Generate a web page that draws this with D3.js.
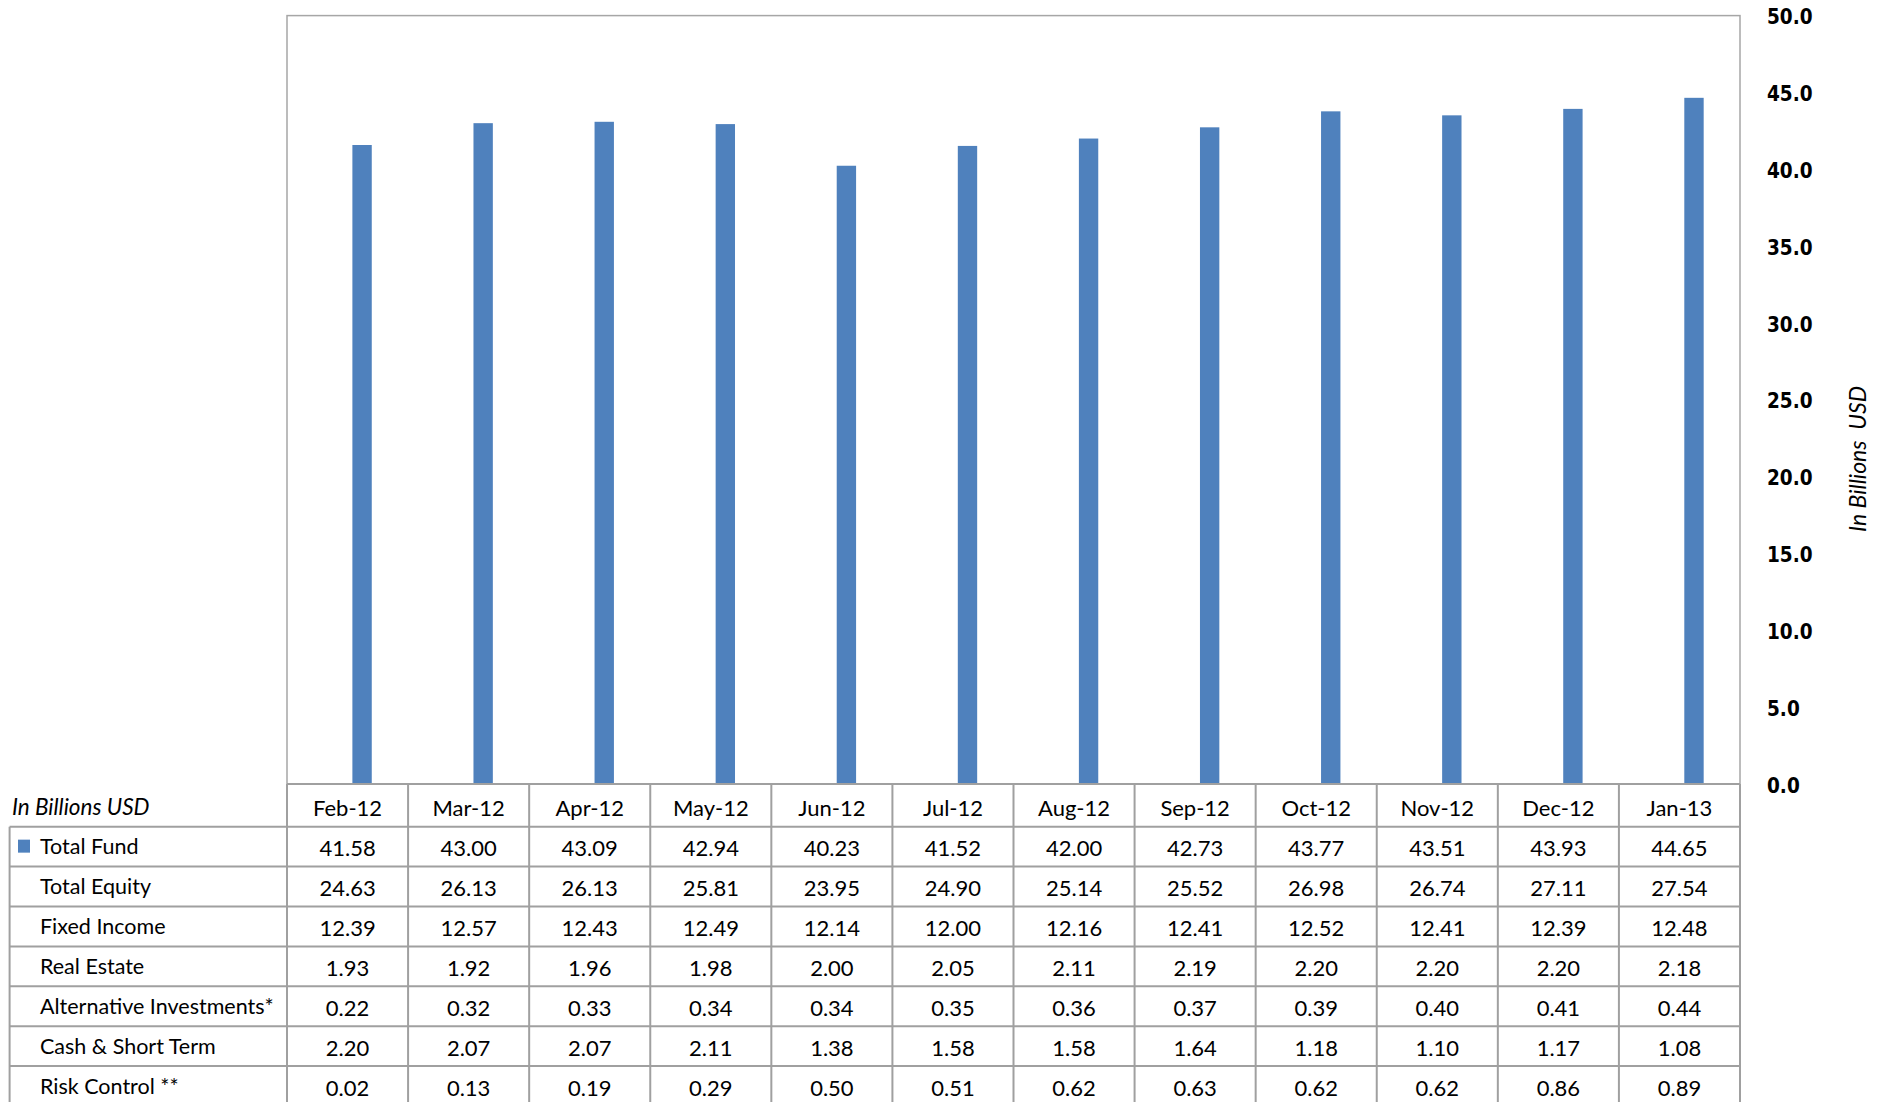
<!DOCTYPE html>
<html>
<head>
<meta charset="utf-8">
<title>Total Fund</title>
<script src="https://d3js.org/d3.v7.min.js"></script>
<style>
  body { margin: 0; background: #fff; }
  .cell { font-family: Lato, "Open Sans", sans-serif; font-size: 22px; fill: #000; }
  .yaxis text { font-family: "DejaVu Sans", Verdana, sans-serif; font-weight: bold; font-size: 18.5px; fill: #000; }
  .xaxis text { font-family: Lato, "Open Sans", sans-serif; font-size: 22px; fill: #000; }
</style>
</head>
<body>
<div id="chart"></div>
<script>
"use strict";

// dados
var meses = ["Feb-12", "Mar-12", "Apr-12", "May-12", "Jun-12", "Jul-12",
             "Aug-12", "Sep-12", "Oct-12", "Nov-12", "Dec-12", "Jan-13"];
var totalFund   = [41.58, 43.00, 43.09, 42.94, 40.23, 41.52, 42.00, 42.73, 43.77, 43.51, 43.93, 44.65];
var totalEquity = [24.63, 26.13, 26.13, 25.81, 23.95, 24.90, 25.14, 25.52, 26.98, 26.74, 27.11, 27.54];
var fixedIncome = [12.39, 12.57, 12.43, 12.49, 12.14, 12.00, 12.16, 12.41, 12.52, 12.41, 12.39, 12.48];
var realEstate  = [1.93, 1.92, 1.96, 1.98, 2.00, 2.05, 2.11, 2.19, 2.20, 2.20, 2.20, 2.18];
var altInvest   = [0.22, 0.32, 0.33, 0.34, 0.34, 0.35, 0.36, 0.37, 0.39, 0.40, 0.41, 0.44];
var cashShort   = [2.20, 2.07, 2.07, 2.11, 1.38, 1.58, 1.58, 1.64, 1.18, 1.10, 1.17, 1.08];
var riskControl = [0.02, 0.13, 0.19, 0.29, 0.50, 0.51, 0.62, 0.63, 0.62, 0.62, 0.86, 0.89];
var rotulosLinhas = ["Total Fund", "Total Equity", "Fixed Income", "Real Estate",
                     "Alternative Investments*", "Cash & Short Term", "Risk Control **"];
var ticksY = [0, 5, 10, 15, 20, 25, 30, 35, 40, 45, 50];

var linhas = [totalFund, totalEquity, fixedIncome, realEstate, altInvest, cashShort, riskControl];

var largura = 1885, altura = 1102;
var plot = {left: 287, right: 1740, top: 15.6, bottom: 784};
var tabela = {left: 9.6, headBottom: 826.7, rowH: 39.9};
var azul = "#4f81bd", cinza = "#a0a0a0";

var svg = d3.select("#chart").append("svg")
    .attr("width", largura)
    .attr("height", altura);

var x = d3.scaleBand()
    .domain(meses)
    .range([plot.left, plot.right]);
var y = d3.scaleLinear()
    .domain([0, 50])
    .range([plot.bottom, plot.top]);

// barras (deslocadas como no cluster do Excel)
var larguraBarra = x.bandwidth() * 0.16;
var desloc = x.bandwidth() * 0.54;

svg.append("g").selectAll("rect")
    .data(totalFund)
    .enter()
    .append("rect")
    .attr("x", (d, i) => x(meses[i]) + desloc)
    .attr("y", d => y(d))
    .attr("width", larguraBarra)
    .attr("height", d => y(0) - y(d))
    .style("fill", azul);

// borda da area do grafico
svg.append("rect")
    .attr("x", plot.left)
    .attr("y", plot.top)
    .attr("width", plot.right - plot.left)
    .attr("height", plot.bottom - plot.top)
    .style("fill", "none")
    .style("stroke", "#a6a6a6")
    .style("stroke-width", 1.5);

// eixo y a direita
var eixoY = svg.append("g")
    .attr("class", "yaxis")
    .attr("transform", "translate(" + plot.right + ",0)")
    .call(d3.axisRight(y).tickValues(ticksY).tickFormat(d3.format(".1f")).tickSize(0).tickPadding(27));
eixoY.select(".domain").remove();
eixoY.selectAll(".tick text")
    .attr("dy", "0.38em")
    .attr("transform", "scale(1,1.15)")
    .attr("y", 0);

svg.append("text")
    .attr("transform", "translate(1866,459) rotate(-90)")
    .attr("text-anchor", "middle")
    .style("font-family", "Lato, sans-serif")
    .style("font-style", "italic")
    .style("font-size", "23px")
    .style("white-space", "pre")
    .text("In Billions  USD");

// tabela de dados
var base = tabela.headBottom + linhas.length * tabela.rowH;
var grade = svg.append("g")
    .style("stroke", cinza)
    .style("stroke-width", 2);

// linhas horizontais
grade.append("line")
    .attr("x1", plot.left).attr("x2", plot.right)
    .attr("y1", plot.bottom).attr("y2", plot.bottom);
d3.range(linhas.length).forEach(function(i) {
  var yy = tabela.headBottom + i * tabela.rowH;
  grade.append("line")
      .attr("x1", tabela.left).attr("x2", plot.right)
      .attr("y1", yy).attr("y2", yy);
});
// linhas verticais
grade.append("line")
    .attr("x1", tabela.left).attr("x2", tabela.left)
    .attr("y1", tabela.headBottom).attr("y2", base);
meses.concat(["fim"]).forEach(function(m) {
  var xx = m === "fim" ? plot.right : x(m);
  grade.append("line")
      .attr("x1", xx).attr("x2", xx)
      .attr("y1", plot.bottom).attr("y2", base);
});

// cabecalho com os meses
var eixoX = svg.append("g")
    .attr("class", "xaxis")
    .attr("transform", "translate(0," + plot.bottom + ")")
    .call(d3.axisBottom(x).tickSize(0).tickPadding(16));
eixoX.select(".domain").remove();

svg.append("text")
    .attr("class", "cell")
    .attr("x", 12)
    .attr("y", (plot.bottom + tabela.headBottom) / 2 + 2)
    .attr("dy", "0.35em")
    .style("font-style", "italic")
    .style("font-size", "22.5px")
    .text("In Billions USD");

// rotulos e valores
linhas.forEach(function(serie, i) {
  var cy = tabela.headBottom + (i + 0.5) * tabela.rowH;
  svg.append("text")
      .attr("class", "cell")
      .attr("x", 40)
      .attr("y", cy)
      .attr("dy", "0.35em")
      .style("font-size", "21.5px")
      .text(rotulosLinhas[i]);
  svg.append("g").selectAll("text")
      .data(serie)
      .enter()
      .append("text")
      .attr("class", "cell")
      .attr("x", (d, j) => x(meses[j]) + x.bandwidth() / 2)
      .attr("y", cy + 2)
      .attr("dy", "0.35em")
      .attr("text-anchor", "middle")
      .text(d => d3.format(".2f")(d));
});

// chave da legenda
svg.append("rect")
    .attr("x", 18)
    .attr("y", tabela.headBottom + tabela.rowH / 2 - 7)
    .attr("width", 12)
    .attr("height", 13)
    .style("fill", azul);
</script>
</body>
</html>
